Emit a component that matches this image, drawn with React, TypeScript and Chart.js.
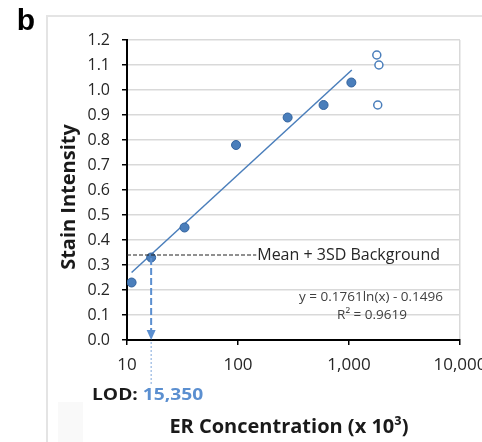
import React, { useEffect, useRef } from "react";
import { Chart, registerables } from "chart.js";

Chart.register(...registerables);

// ---- data ----
const concFilled = [11, 16.5, 33, 96, 280, 590, 1050];
const intensityFilled = [0.23, 0.33, 0.45, 0.78, 0.89, 0.94, 1.03];
const concOpen = [1780, 1860, 1815];
const intensityOpen = [1.14, 1.1, 0.94];
const trendConc = [11, 1060];
const trendIntensity = [0.27, 1.08];
const xTickValues = [10, 100, 1000, 10000];
const thresholdValue = 0.34; // Mean + 3SD background
const thresholdEndConc = 146;
const lodArrowConc = 16.5;
const lodLabel = "15,350";
const equationText = "y = 0.1761ln(x) - 0.1496";
const r2Text = "R² = 0.9619";

const W = 482;
const H = 442;
const FONT = "'Open Sans', 'Noto Sans', sans-serif";
const BLUE = "#4a7ebb";

export default function App() {
  const ref = useRef<HTMLCanvasElement>(null);

  useEffect(() => {
    const canvas = ref.current!;
    const overlay = {
      id: "overlay",
      beforeDraw(chart: any) {
        const c = chart.ctx;
        c.save();
        c.fillStyle = "#ffffff";
        c.fillRect(0, 0, W, H);
        c.strokeStyle = "#e4e4e4";
        c.lineWidth = 2;
        c.beginPath();
        c.moveTo(47, H);
        c.lineTo(47, 16);
        c.lineTo(W, 16);
        c.stroke();
        c.fillStyle = "#f9f9f9";
        c.fillRect(58, 402, 25, 40);
        c.restore();
      },
      afterDraw(chart: any) {
        const c = chart.ctx;
        const xs = chart.scales.x;
        const ys = chart.scales.y;
        const area = chart.chartArea;
        c.save();
        // threshold dashed line
        const ty = ys.getPixelForValue(thresholdValue);
        const tx2 = xs.getPixelForValue(thresholdEndConc);
        c.strokeStyle = "#222";
        c.lineWidth = 1.2;
        c.setLineDash([4, 2]);
        c.beginPath();
        c.moveTo(area.left, ty);
        c.lineTo(tx2, ty);
        c.stroke();
        c.setLineDash([]);
        c.fillStyle = "#262626";
        c.font = `16px ${FONT}`;
        c.textAlign = "left";
        c.textBaseline = "middle";
        c.fillText("Mean + 3SD Background", tx2 + 1, ty);

        // LOD arrow
        const ax = xs.getPixelForValue(lodArrowConc);
        const ay0 = ys.getPixelForValue(thresholdValue) + 3;
        const ay1 = area.bottom;
        c.strokeStyle = "#5b8fd0";
        c.lineWidth = 2;
        c.setLineDash([7, 3]);
        c.beginPath();
        c.moveTo(ax, ay0);
        c.lineTo(ax, ay1 - 8);
        c.stroke();
        c.setLineDash([]);
        c.fillStyle = "#5b8fd0";
        c.beginPath();
        c.moveTo(ax - 4.5, ay1 - 10);
        c.lineTo(ax + 4.5, ay1 - 10);
        c.lineTo(ax, ay1);
        c.closePath();
        c.fill();
        c.strokeStyle = "#7fa7dc";
        c.lineWidth = 1;
        c.setLineDash([2, 2]);
        c.beginPath();
        c.moveTo(ax, ay1 + 2);
        c.lineTo(ax, 385);
        c.stroke();
        c.setLineDash([]);

        // LOD label
        c.save();
        c.translate(92, 395);
        c.scale(1.2, 1);
        c.font = `bold 16px ${FONT}`;
        c.textAlign = "left";
        c.fillStyle = "#1a1a1a";
        const pre = "LOD: ";
        c.fillText(pre, 0, 0);
        const pw = c.measureText(pre).width;
        c.fillStyle = "#5b8fd0";
        c.fillText(lodLabel, pw, 0);
        c.restore();

        // equation
        c.fillStyle = "#404040";
        c.font = `13.5px ${FONT}`;
        c.textAlign = "center";
        c.fillText(equationText, 371, 297);
        c.fillText(r2Text, 372, 315);

        // axis titles
        c.fillStyle = "#1a1a1a";
        c.font = `bold 20px ${FONT}`;
        c.textAlign = "center";
        c.fillText("ER Concentration (x 10³)", 289, 427);
        c.save();
        c.translate(69, 197);
        c.rotate(-Math.PI / 2);
        c.fillText("Stain Intensity", 0, 0);
        c.restore();

        // panel letter
        c.font = `bold 30px 'Liberation Sans', Arial, sans-serif`;
        c.textAlign = "center";
        c.fillStyle = "#000";
        c.fillText("b", 26, 22);
        c.restore();
      },
    };

    const chart = new Chart(canvas, {
      type: "scatter",
      data: {
        datasets: [
          {
            data: concFilled.map((x, i) => ({ x, y: intensityFilled[i] })),
            backgroundColor: BLUE,
            borderColor: "#34649f",
            borderWidth: 1,
            pointRadius: 4.5,
          },
          {
            data: concOpen.map((x, i) => ({ x, y: intensityOpen[i] })),
            backgroundColor: "#ffffff",
            borderColor: BLUE,
            borderWidth: 1.5,
            pointRadius: 4,
          },
          {
            data: trendConc.map((x, i) => ({ x, y: trendIntensity[i] })),
            showLine: true,
            borderColor: BLUE,
            borderWidth: 1.5,
            pointRadius: 0,
          },
        ],
      },
      options: {
        responsive: false,
        animation: false,
        layout: { padding: { top: 40, right: 22, left: 0, bottom: 0 } },
        plugins: { legend: { display: false }, tooltip: { enabled: false } },
        scales: {
          x: {
            type: "logarithmic",
            min: 10,
            max: 10000,
            afterBuildTicks: (axis: any) => {
              axis.ticks = xTickValues.map((v) => ({ value: v }));
            },
            afterFit: (axis: any) => {
              axis.height = 102;
              axis.paddingLeft = 0;
              axis.paddingRight = 0;
            },
            ticks: {
              autoSkip: false,
              maxRotation: 0,
              padding: 10,
              color: "#262626",
              font: { family: FONT, size: 17 },
              callback: (v: any) => Number(v).toLocaleString("en-US"),
            },
            grid: {
              color: (ctx: any) =>
                ctx.tick && ctx.tick.value === 10000 ? "#d9d9d9" : "rgba(0,0,0,0)",
              lineWidth: 1.5,
              tickColor: "#000",
              tickLength: 5,
            },
            border: { color: "#000", width: 2 },
          },
          y: {
            min: 0,
            max: 1.2,
            afterFit: (axis: any) => {
              axis.width = 127;
              axis.paddingTop = 0;
              axis.paddingBottom = 0;
            },
            ticks: {
              stepSize: 0.1,
              padding: 12,
              color: "#262626",
              font: { family: FONT, size: 16 },
              callback: (v: any) => Number(v).toFixed(1),
            },
            grid: {
              color: "#d9d9d9",
              lineWidth: 1.5,
              tickColor: "#000",
              tickLength: 5,
            },
            border: { color: "#000", width: 2 },
          },
        },
      },
      plugins: [overlay],
    });
    return () => chart.destroy();
  }, []);

  return (
    <div style={{ position: "absolute", left: 0, top: 0, width: W, height: H, background: "#fff" }}>
      <canvas ref={ref} width={W} height={H} style={{ width: W, height: H, display: "block" }} />
    </div>
  );
}
